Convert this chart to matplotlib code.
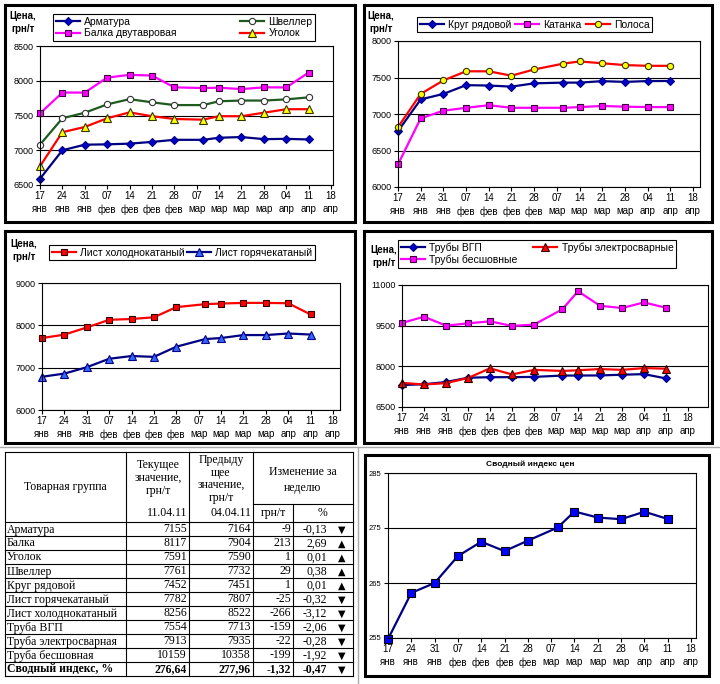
import pandas as pd
import matplotlib
matplotlib.use("Agg")
import matplotlib.pyplot as plt
import matplotlib.dates as mdates

plt.rcParams["font.family"] = ["Liberation Sans", "DejaVu Sans"]

W, H = 720, 684

# ---------------------------------------------------------------------------
# Data
# ---------------------------------------------------------------------------
dates = pd.to_datetime([
    "2011-01-17", "2011-01-24", "2011-01-31", "2011-02-07", "2011-02-14",
    "2011-02-21", "2011-02-28", "2011-03-09", "2011-03-14", "2011-03-21",
    "2011-03-28", "2011-04-04", "2011-04-11",
])
tick_dates = pd.date_range("2011-01-17", "2011-04-18", freq="7D")
tick_days = ["17", "24", "31", "07", "14", "21", "28", "07", "14", "21", "28", "04", "11", "18"]
tick_months = ["янв", "янв", "янв", "фев", "фев", "фев", "фев",
               "мар", "мар", "мар", "мар", "апр", "апр", "апр"]

armatura = [6590, 7000, 7080, 7085, 7095, 7120, 7150, 7150, 7180, 7190, 7160, 7164, 7155]
shveller = [7080, 7460, 7540, 7660, 7735, 7690, 7650, 7650, 7705, 7715, 7715, 7732, 7761]
balka = [7530, 7830, 7830, 8045, 8085, 8075, 7905, 7895, 7900, 7880, 7905, 7904, 8117]
ugolok = [6770, 7260, 7335, 7460, 7545, 7490, 7450, 7440, 7490, 7490, 7540, 7590, 7591]

krug = [6765, 7200, 7275, 7395, 7390, 7375, 7420, 7430, 7430, 7450, 7440, 7451, 7452]
katanka = [6310, 6940, 7045, 7085, 7120, 7085, 7085, 7085, 7095, 7110, 7100, 7095, 7095]
polosa = [6820, 7275, 7460, 7585, 7585, 7525, 7610, 7690, 7720, 7695, 7670, 7660, 7660]

list_cold = [7700, 7780, 7950, 8130, 8150, 8190, 8430, 8500, 8515, 8530, 8530, 8522, 8256]
list_hot = [6785, 6860, 7010, 7210, 7275, 7255, 7495, 7675, 7700, 7770, 7770, 7807, 7782]

truby_vgp = [7310, 7340, 7420, 7580, 7600, 7600, 7610, 7660, 7660, 7665, 7690, 7713, 7554]
truby_el = [7390, 7330, 7380, 7570, 7925, 7700, 7870, 7830, 7855, 7900, 7870, 7935, 7913]
truby_bs = [9600, 9830, 9500, 9585, 9660, 9490, 9540, 10100, 10770, 10235, 10150, 10358, 10159]

price_index = [254.8, 263.2, 265.0, 269.9, 272.5, 270.8, 272.7, 275.1, 278.0, 276.9, 276.6, 277.96, 276.64]

tbl_names = ["Арматура", "Балка", "Уголок", "Швеллер", "Круг рядовой",
             "Лист горячекатаный", "Лист холоднокатаный", "Труба ВГП",
             "Труба электросварная", "Труба бесшовная", "Сводный индекс, %"]
tbl_cur = ["7155", "8117", "7591", "7761", "7452", "7782", "8256", "7554", "7913", "10159", "276,64"]
tbl_prev = ["7164", "7904", "7590", "7732", "7451", "7807", "8522", "7713", "7935", "10358", "277,96"]
tbl_diff = ["-9", "213", "1", "29", "1", "-25", "-266", "-159", "-22", "-199", "-1,32"]
tbl_pct = ["-0,13", "2,69", "0,01", "0,38", "0,01", "-0,32", "-3,12", "-2,06", "-0,28", "-1,92", "-0,47"]

NAVY = "#000080"
MAG = "#FF00FF"
RED = "#FF0000"
YEL = "#FFFF00"
GREEN = "#1f5a1f"


def px_rect(x0, y0, x1, y1):
    return [x0 / W, 1 - y1 / H, (x1 - x0) / W, (y1 - y0) / H]


def style(color, marker, mfc, mec, ms):
    return dict(color=color, lw=1.6, marker=marker, mfc=mfc, mec=mec, ms=ms, mew=0.8)


fig = plt.figure(figsize=(W / 100, H / 100), dpi=100)

# page layer in pixel coordinates (borders, table)
page = fig.add_axes([0, 0, 1, 1], zorder=0)
page.set_xlim(0, W)
page.set_ylim(H, 0)
page.axis("off")


def chart(rect, x18, ylim, yticks, series, yfs=6.5):
    x0, y0, x1, y1 = rect
    ax = fig.add_axes(px_rect(*rect), zorder=2)
    t0 = mdates.date2num(tick_dates[0])
    ax.set_xlim(t0, t0 + (x1 - x0) / (x18 - x0) * 91)
    ax.set_ylim(*ylim)
    ax.set_yticks(yticks)
    ax.set_xticks(tick_dates)
    ax.set_xticklabels([f"{d}\n{m}" for d, m in zip(tick_days, tick_months)],
                       linespacing=1.4)
    ax.tick_params(axis="both", length=3, width=0.8, pad=1.5)
    ax.tick_params(axis="x", labelsize=7)
    ax.tick_params(axis="y", labelsize=yfs)
    ax.grid(axis="y", color="black", lw=0.8)
    ax.set_axisbelow(True)
    for s in ax.spines.values():
        s.set_linewidth(0.8)
    handles = {}
    for label, vals, st in series:
        ln, = ax.plot(dates, vals, label=label, clip_on=False, **st)
        handles[label] = ln
    return ax, handles


def legend(handles, rect, ncol, fs=7.5):
    leg = fig.legend(handles=handles, loc="upper left",
                     bbox_to_anchor=px_rect(*rect), bbox_transform=fig.transFigure,
                     mode="expand", ncol=ncol, fontsize=fs, frameon=True,
                     fancybox=False, edgecolor="black", framealpha=1,
                     borderaxespad=0, borderpad=0.25, labelspacing=0.15,
                     handlelength=2.3, handletextpad=0.4, columnspacing=0.5)
    leg.get_frame().set_linewidth(0.8)
    leg.set_zorder(5)
    return leg


def panel_box(x0, y0, x1, y1):
    page.plot([x0, x1, x1, x0, x0], [y0, y0, y1, y1, y0], color="black", lw=2.2,
              solid_joinstyle="miter")


def price_label(xc, ytop):
    fig.text(xc / W, 1 - ytop / H, "Цена,\nгрн/т", ha="center", va="top",
             fontsize=7, fontweight="bold", linespacing=1.35, zorder=3)


# ---------------------------------------------------------------------------
# Panel 1
# ---------------------------------------------------------------------------
panel_box(5, 5, 355, 222)
ax1, h1 = chart((40, 46, 333, 185), 331, (6500, 8500), [6500, 7000, 7500, 8000, 8500], [
    ("Арматура", armatura, style(NAVY, "D", "#0000CC", NAVY, 4.5)),
    ("Швеллер", shveller, style(GREEN, "o", "white", "#333333", 4.5)),
    ("Балка двутавровая", balka, style(MAG, "s", MAG, "#400040", 5)),
    ("Уголок", ugolok, style(RED, "^", YEL, "#333300", 5.5)),
])
# legend fills column by column
legend([h1["Арматура"], h1["Балка двутавровая"], h1["Швеллер"], h1["Уголок"]],
       (53, 14, 315, 42), 2)
price_label(23, 11)

# ---------------------------------------------------------------------------
# Panel 2
# ---------------------------------------------------------------------------
panel_box(364, 5, 712, 222)
ax2, h2 = chart((398, 41, 700, 187), 693, (6000, 8000), [6000, 6500, 7000, 7500, 8000], [
    ("Круг рядовой", krug, style(NAVY, "D", "#0000CC", NAVY, 4.5)),
    ("Катанка", katanka, style(MAG, "s", MAG, "#400040", 5)),
    ("Полоса", polosa, style(RED, "o", YEL, "#333300", 4.5)),
])
legend(list(h2.values()), (417, 17, 652, 35), 3)
price_label(381, 11)

# ---------------------------------------------------------------------------
# Panel 3
# ---------------------------------------------------------------------------
panel_box(5, 231, 355, 443)
ax3, h3 = chart((42, 283, 340, 410), 333, (6000, 9000), [6000, 7000, 8000, 9000], [
    ("Лист холоднокатаный", list_cold, style(RED, "s", RED, "#300000", 5)),
    ("Лист горячекатаный", list_hot, style(NAVY, "^", "#3366FF", NAVY, 5.5)),
])
legend(list(h3.values()), (49, 245, 315, 265), 2)
price_label(24, 239)

# ---------------------------------------------------------------------------
# Panel 4
# ---------------------------------------------------------------------------
panel_box(364, 231, 712, 443)
ax4, h4 = chart((402, 285, 708, 407), 688, (6500, 11000), [6500, 8000, 9500, 11000], [
    ("Трубы ВГП", truby_vgp, style(NAVY, "D", "#0000CC", NAVY, 4.5)),
    ("Трубы электросварные", truby_el, style(RED, "^", RED, "#300000", 5.5)),
    ("Трубы бесшовные", truby_bs, style(MAG, "s", MAG, "#400040", 5)),
])
legend([h4["Трубы ВГП"], h4["Трубы бесшовные"], h4["Трубы электросварные"]],
       (398, 240, 676, 270), 2)
price_label(384, 245)

# ---------------------------------------------------------------------------
# Panel 5 — price index
# ---------------------------------------------------------------------------
panel_box(365, 455, 709, 676)
ax5, h5 = chart((388, 473, 696, 638), 691, (255, 285), [255, 265, 275, 285], [
    ("Сводный индекс цен", price_index, style(NAVY, "s", "#0000FF", "#000000", 5.5)),
], yfs=5.5)
fig.text(530 / W, 1 - 464 / H, "Сводный индекс цен", ha="center", va="center",
         fontsize=6, fontweight="bold")

# ---------------------------------------------------------------------------
# Table
# ---------------------------------------------------------------------------
page.plot([0, W], [447, 447], color="#aaaaaa", lw=1)
page.plot([358, 358], [447, H], color="#aaaaaa", lw=1)

cols = [5, 126, 189, 253, 293, 353]
top, sub, head = 452, 504, 522
row_h = 14
rows_y = [head + i * row_h for i in range(len(tbl_names) + 1)]
bottom = rows_y[-1]

lw = 0.8
page.plot([cols[0], cols[-1]], [top, top], color="black", lw=lw)
for y in rows_y:
    page.plot([cols[0], cols[-1]], [y, y], color="black", lw=lw)
page.plot([cols[3], cols[5]], [sub, sub], color="black", lw=lw)
for x in [cols[0], cols[1], cols[2], cols[3], cols[5]]:
    page.plot([x, x], [top, bottom], color="black", lw=lw)
page.plot([cols[4], cols[4]], [sub, bottom], color="black", lw=lw)

serif = ["Liberation Serif", "DejaVu Sans"]
fs = 8.5
page.text(65, 487, "Товарная группа", ha="center", va="center", fontsize=fs, family=serif)
page.text(158, 478, "Текущее\nзначение,\nгрн/т", ha="center", va="center",
          fontsize=fs, family=serif, linespacing=1.1)
page.text(221, 479, "Предыду\nщее\nзначение,\nгрн/т", ha="center", va="center",
          fontsize=fs, family=serif, linespacing=1.05)
page.text(303, 480, "Изменение за\nнеделю", ha="center", va="center",
          fontsize=fs, family=serif, linespacing=1.5)
page.text(187, 513, "11.04.11", ha="right", va="center", fontsize=fs, family=serif)
page.text(251, 513, "04.04.11", ha="right", va="center", fontsize=fs, family=serif)
page.text(273, 513, "грн/т", ha="center", va="center", fontsize=fs, family=serif)
page.text(322, 513, "%", ha="center", va="center", fontsize=fs, family=serif)

for i, name in enumerate(tbl_names):
    yc = rows_y[i] + row_h / 2 + 0.5
    wt = "bold" if i == len(tbl_names) - 1 else "normal"
    kw = dict(va="center", fontsize=fs, family=serif, fontweight=wt)
    page.text(7, yc, name, ha="left", **kw)
    page.text(187, yc, tbl_cur[i], ha="right", **kw)
    page.text(251, yc, tbl_prev[i], ha="right", **kw)
    page.text(291, yc, tbl_diff[i], ha="right", **kw)
    page.text(327, yc, tbl_pct[i], ha="right", **kw)
    arrow = "▼" if tbl_pct[i].startswith("-") else "▲"
    page.text(342, yc, arrow, ha="center", va="center", fontsize=7,
              family=["DejaVu Sans"])

fig.savefig("out.png", dpi=100)
